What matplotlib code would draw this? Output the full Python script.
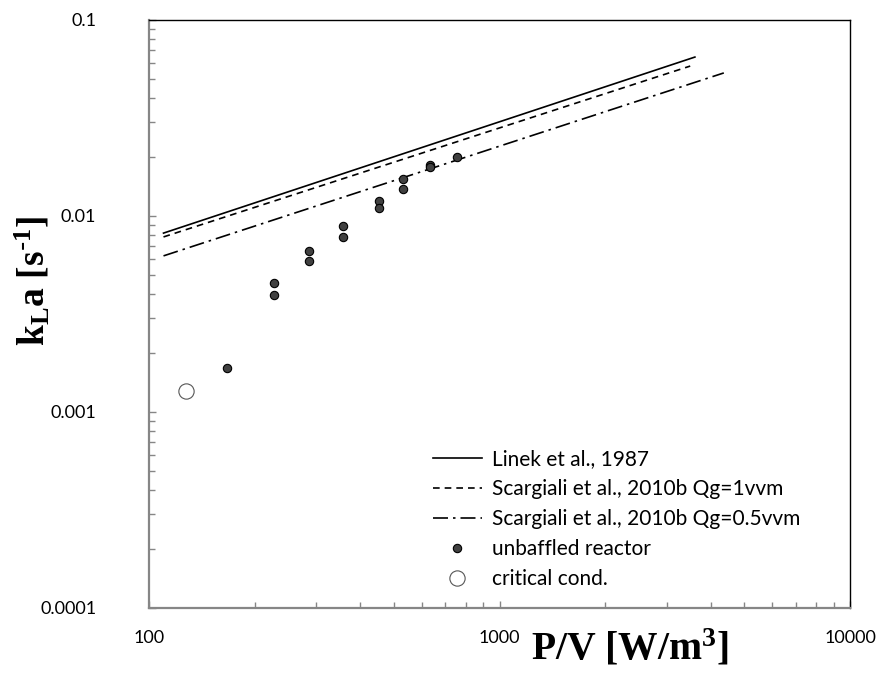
import matplotlib
matplotlib.use("Agg")
import matplotlib.pyplot as plt
from matplotlib.ticker import LogLocator, FixedLocator, FixedFormatter, NullFormatter

# correlation lines (end points, straight on log-log axes)
linek_x = [110, 3610]
linek_y = [0.00818, 0.0647]
scarg1_x = [110, 3500]
scarg1_y = [0.00782, 0.0582]
scarg05_x = [110, 4365]
scarg05_y = [0.00626, 0.0537]

# unbaffled reactor measurements
pv_data = [166.6, 227.3, 227.3, 286.7, 286.7, 357.7, 357.7, 452, 452,
           531.8, 531.8, 633.5, 633.5, 758]
kla_data = [0.00167, 0.00454, 0.00394, 0.00661, 0.00592, 0.00886, 0.00778,
            0.01193, 0.01103, 0.0155, 0.01374, 0.01828, 0.01778, 0.0201]

# critical condition
pv_crit = [127.5]
kla_crit = [0.00128]

x_ticks = [100, 1000, 10000]
x_labels = ["100", "1000", "10000"]
y_ticks = [0.0001, 0.001, 0.01, 0.1]
y_labels = ["0.0001", "0.001", "0.01", "0.1"]

fig = plt.figure(figsize=(8.83, 6.79), dpi=100)
ax = fig.add_axes([149 / 883, 1 - 608 / 679, 701 / 883, 588 / 679])

ax.plot(linek_x, linek_y, color="black", lw=1.2, label="Linek et al., 1987")
ax.plot(scarg1_x, scarg1_y, color="black", lw=1.2, dashes=(4, 3),
        label="Scargiali et al., 2010b Qg=1vvm")
ax.plot(scarg05_x, scarg05_y, color="black", lw=1.2, dashes=(9, 3, 1.5, 3),
        label="Scargiali et al., 2010b Qg=0.5vvm")
ax.plot(pv_data, kla_data, "o", ms=6, mfc="#404040", mec="black", mew=0.8,
        label="unbaffled reactor")
ax.plot(pv_crit, kla_crit, "o", ms=11, mfc="white", mec="#555555", mew=0.8,
        label="critical cond.")

ax.set_xscale("log")
ax.set_yscale("log")
ax.set_xlim(100, 10000)
ax.set_ylim(0.0001, 0.1)

ax.xaxis.set_major_locator(FixedLocator(x_ticks))
ax.xaxis.set_major_formatter(FixedFormatter(x_labels))
ax.yaxis.set_major_locator(FixedLocator(y_ticks))
ax.yaxis.set_major_formatter(FixedFormatter(y_labels))
ax.xaxis.set_minor_locator(LogLocator(base=10, subs=range(2, 10)))
ax.yaxis.set_minor_locator(LogLocator(base=10, subs=range(2, 10)))
ax.xaxis.set_minor_formatter(NullFormatter())
ax.yaxis.set_minor_formatter(NullFormatter())

tick_font = "Lato"
ax.tick_params(axis="both", which="both", direction="in", color="#868686",
               top=False, right=False)
ax.tick_params(axis="both", which="major", length=5, width=1)
ax.tick_params(axis="both", which="minor", length=4, width=1)
ax.tick_params(axis="x", which="major", pad=16)
ax.tick_params(axis="y", which="major", pad=38)
for lab in ax.get_xticklabels() + ax.get_yticklabels():
    lab.set_fontfamily(tick_font)
    lab.set_fontsize(13)

ax.spines["left"].set_color("#868686")
ax.spines["bottom"].set_color("#868686")
ax.spines["left"].set_linewidth(1.6)
ax.spines["bottom"].set_linewidth(1.6)
ax.spines["top"].set_linewidth(1.0)
ax.spines["right"].set_linewidth(1.0)

fig.text(630 / 883, 1 - 648 / 679, "P/V [W/m$\\mathregular{^3}$]",
         family="Liberation Serif", weight="bold", fontsize=28.5,
         ha="center", va="center")
fig.text(33 / 883, 1 - 281 / 679,
         "k$\\mathregular{_L}$a [s$\\mathregular{^{\\text{-}1}}$]",
         family="Liberation Serif", weight="bold", fontsize=27,
         ha="center", va="center", rotation=90)

leg = ax.legend(loc="upper left", bbox_to_anchor=(433 / 883, 1 - 449 / 679),
                bbox_transform=fig.transFigure, frameon=False, borderaxespad=0,
                borderpad=0, handlelength=2.35, handletextpad=0.5,
                labelspacing=0.48, prop={"family": tick_font, "size": 15})

fig.savefig("out.png", dpi=100)
